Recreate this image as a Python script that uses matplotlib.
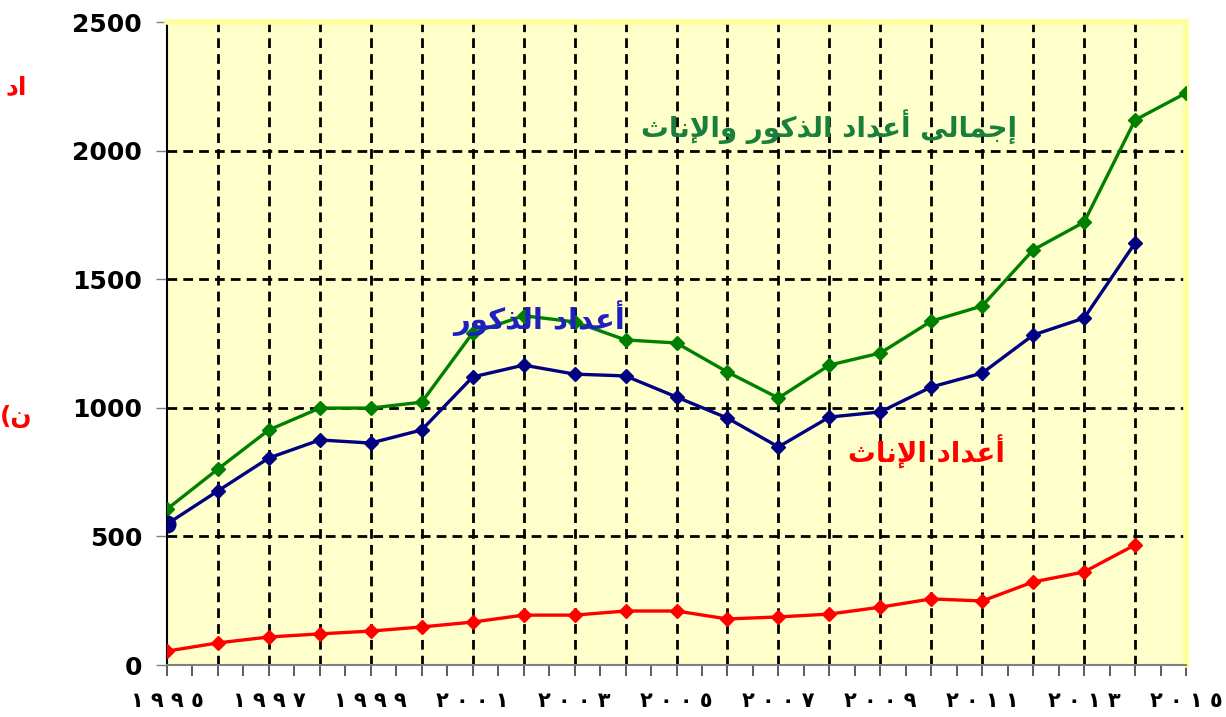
import matplotlib.pyplot as plt
from matplotlib.ticker import MultipleLocator

years = list(range(1995, 2016))

# total (males + females), 1995-2015
total = [606, 762, 914, 999, 999, 1022, 1291, 1358, 1334, 1264, 1252,
         1139, 1038, 1166, 1213, 1337, 1396, 1614, 1722, 2119, 2224]
# males, 1995-2014
males = [548, 677, 805, 875, 863, 914, 1120, 1166, 1131, 1124, 1042,
         960, 848, 964, 984, 1081, 1135, 1283, 1349, 1641]
# females, 1995-2014
females = [54, 86, 109, 121, 132, 148, 167, 194, 194, 210, 210,
           179, 187, 198, 225, 257, 249, 323, 362, 467]

y_ticks = [0, 500, 1000, 1500, 2000, 2500]
label_years = list(range(1995, 2016, 2))

# arabic text in presentation forms (logical order), reversed for display
lbl_total = "\uFE87\uFE9F\uFEE4\uFE8E\uFEDF\uFEF0 \uFE83\uFECB\uFEAA\uFE8D\uFEA9 \uFE8D\uFEDF\uFEAC\uFEDB\uFEEE\uFEAD \uFEED\uFE8D\uFEF9\uFEE7\uFE8E\uFE99"
lbl_males = "\uFE83\uFECB\uFEAA\uFE8D\uFEA9 \uFE8D\uFEDF\uFEAC\uFEDB\uFEEE\uFEAD"
lbl_females = "\uFE83\uFECB\uFEAA\uFE8D\uFEA9 \uFE8D\uFEF9\uFEE7\uFE8E\uFE99"


def ar_digits(n):
    d = "\u0660\u0661\u0662\u0663\u0664\u0665\u0666\u0667\u0668\u0669"
    return " ".join(d[int(c)] for c in str(n))


fig = plt.figure(figsize=(12.26, 7.17), dpi=100)
ax = fig.add_axes([0.1362, 0.0725, 0.8312, 0.8968])
ax.set_facecolor('#FFFFCC')

ax.plot(years, total, color='#008000', lw=2.4, marker='D', ms=7, zorder=3)
ax.plot(years[:len(males)], males, color='#000080', lw=2.4, marker='D', ms=7, zorder=4)
ax.plot(years[0], males[0], color='#000080', marker='o', ms=12, zorder=4)
ax.plot(years[:len(females)], females, color='#FF0000', lw=2.4, marker='D', ms=7, zorder=4)

ax.set_xlim(1995, 2015)
ax.set_ylim(0, 2500)

for yr in years[1:-1]:
    ax.axvline(yr, color='black', lw=2, ls=(0, (3.5, 2.2)), zorder=1)
for v in y_ticks[1:-1]:
    ax.axhline(v, color='black', lw=2, ls=(0, (3.5, 2.2)), zorder=1)

ax.set_yticks(y_ticks)
ax.set_yticklabels([str(v) for v in y_ticks], fontsize=18, fontweight='bold')
ax.set_xticks(label_years)
ax.set_xticklabels([ar_digits(y) for y in label_years], fontsize=15, fontweight='bold')
ax.xaxis.set_minor_locator(MultipleLocator(0.5))
ax.tick_params(axis='x', which='both', length=8, width=1.2, color='#404040', pad=11)
ax.tick_params(axis='y', length=8, width=1, color='#808080', pad=10)

for s in ['top', 'right']:
    ax.spines[s].set_color('#FFFF99')
    ax.spines[s].set_linewidth(4)
ax.spines['left'].set_color('black')
ax.spines['left'].set_linewidth(1.5)
ax.spines['bottom'].set_color('#808080')
ax.spines['bottom'].set_linewidth(1.5)

ax.text(2008.0, 2092, lbl_total[::-1], color='#1A7F3A', fontsize=20,
        fontweight='bold', ha='center', va='center', zorder=5)
ax.text(2002.3, 1349, lbl_males[::-1], color='#2020C0', fontsize=21,
        fontweight='bold', ha='center', va='center', zorder=5)
ax.text(2009.9, 828, lbl_females[::-1], color='#FF0000', fontsize=20,
        fontweight='bold', ha='center', va='center', zorder=5)

# clipped axis title fragments on the far left
fig.text(0.013, 0.878, "\uFEA9\uFE8D", color='red', fontsize=18,
         fontweight='bold', ha='center', va='center')
fig.text(0.013, 0.418, "(\uFEE5", color='red', fontsize=18,
         fontweight='bold', ha='center', va='center')

fig.savefig('out.png', dpi=100)
